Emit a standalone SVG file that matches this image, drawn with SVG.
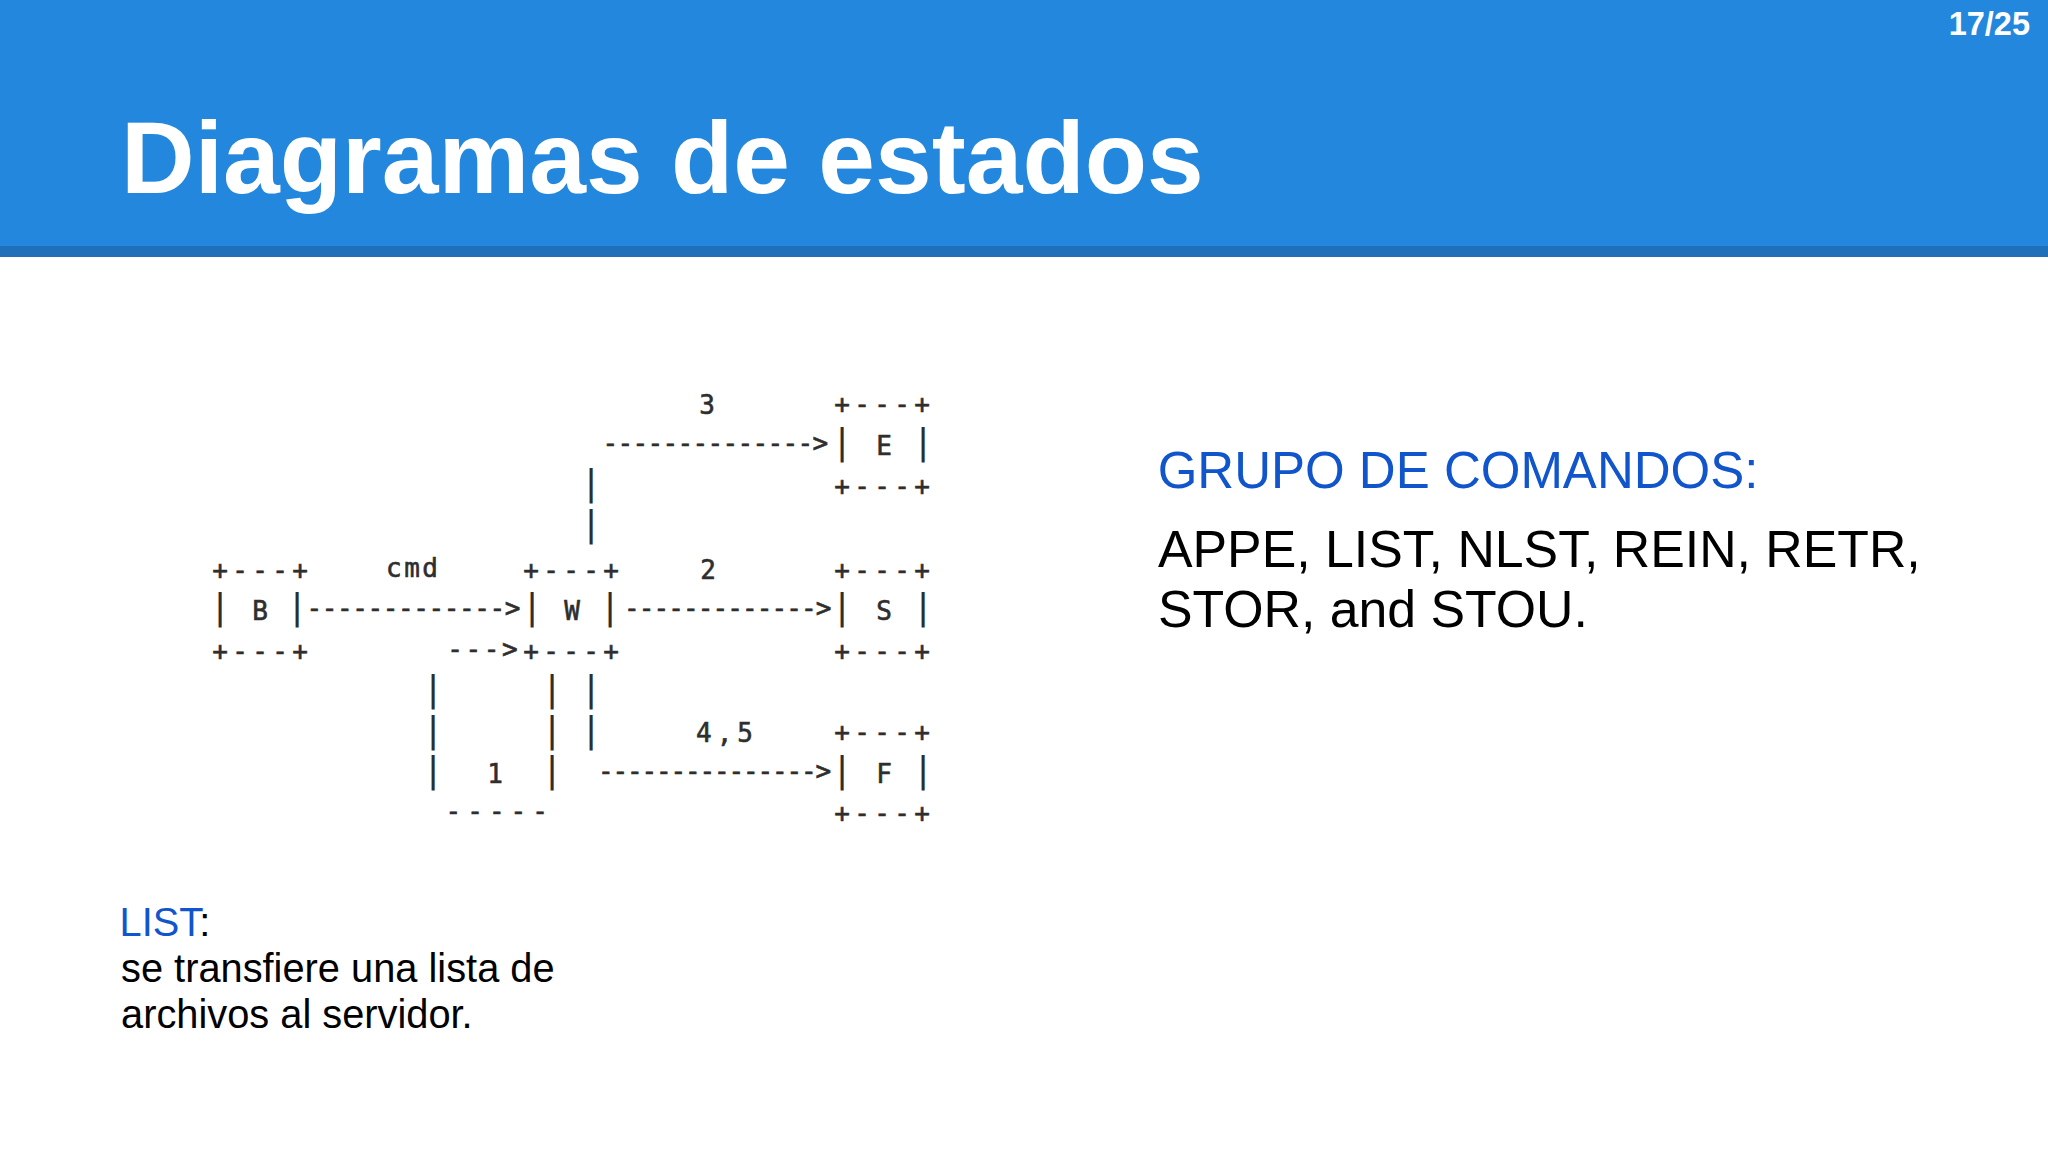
<svg xmlns="http://www.w3.org/2000/svg" width="2048" height="1152" viewBox="0 0 2048 1152">
  <style>
    .sans { font-family: 'Liberation Sans', Arial, sans-serif; }
    .hdr { fill: #ffffff; font-weight: bold; }
    .blue { fill: #1155CC; }
    .blk { fill: #000000; }
    .mono { font-family: 'DejaVu Sans Mono', 'Liberation Mono', monospace; font-size: 26px; fill: #2e2e2e; stroke: #2e2e2e; stroke-width: 0.6px; }
    .bar { font-family: 'DejaVu Sans Mono', 'Liberation Mono', monospace; font-size: 36px; fill: #2e2e2e; text-anchor: middle; }
    .mid { text-anchor: middle; }
    .edge { letter-spacing: 4.35px; }
  </style>

  <rect x="0" y="0" width="2048" height="1152" fill="#ffffff"/>

  <g id="header">
    <rect x="0" y="0" width="2048" height="246" fill="#2388DD"/>
    <rect x="0" y="246" width="2048" height="11" fill="#1F70B8"/>
    <text x="121" y="193" class="sans hdr" font-size="102">Diagramas de estados</text>
    <text x="2030" y="35" class="sans hdr" font-size="32.5" text-anchor="end">17/25</text>
  </g>

  <g id="node-B">
    <text x="212.2" y="578.6" class="mono edge">+---+</text>
    <text x="220" y="619.4" class="bar">|</text>
    <text x="260" y="619.5" class="mono mid">B</text>
    <text x="297" y="619.4" class="bar">|</text>
    <text x="212.2" y="659.6" class="mono edge">+---+</text>
  </g>

  <g id="node-W">
    <text x="523.2" y="578.6" class="mono edge">+---+</text>
    <text x="532" y="619.4" class="bar">|</text>
    <text x="572" y="619.5" class="mono mid">W</text>
    <text x="610" y="619.4" class="bar">|</text>
    <text x="523.2" y="659.6" class="mono edge">+---+</text>
  </g>

  <g id="node-E">
    <text x="834.2" y="412.6" class="mono edge">+---+</text>
    <text x="842" y="454.4" class="bar">|</text>
    <text x="884" y="454.5" class="mono mid">E</text>
    <text x="923" y="454.4" class="bar">|</text>
    <text x="834.2" y="494.6" class="mono edge">+---+</text>
  </g>

  <g id="node-S">
    <text x="834.2" y="578.6" class="mono edge">+---+</text>
    <text x="842" y="619.4" class="bar">|</text>
    <text x="884" y="619.5" class="mono mid">S</text>
    <text x="923" y="619.4" class="bar">|</text>
    <text x="834.2" y="659.6" class="mono edge">+---+</text>
  </g>

  <g id="node-F">
    <text x="834.2" y="740.6" class="mono edge">+---+</text>
    <text x="842" y="782.4" class="bar">|</text>
    <text x="884" y="782.5" class="mono mid">F</text>
    <text x="923" y="782.4" class="bar">|</text>
    <text x="834.2" y="821.6" class="mono edge">+---+</text>
  </g>

  <g id="connectors">
    <!-- W to E, label 3 -->
    <text x="591" y="495.4" class="bar">|</text>
    <text x="591" y="536.4" class="bar">|</text>
    <text x="602.5" y="452.4" class="mono" letter-spacing="-0.65">--------------&gt;</text>
    <text x="707" y="413.5" class="mono mid">3</text>
    <!-- B to W, label cmd -->
    <text x="306.5" y="617.4" class="mono" letter-spacing="-0.4">-------------&gt;</text>
    <text x="386" y="577" class="mono" letter-spacing="2.5">cmd</text>
    <!-- W to S, label 2 -->
    <text x="624" y="617.4" class="mono" letter-spacing="-0.9">-------------&gt;</text>
    <text x="708" y="579" class="mono mid">2</text>
    <!-- W self loop, label 1 -->
    <text x="447.2" y="658.4" class="mono" letter-spacing="2.65">---&gt;</text>
    <text x="433" y="701.4" class="bar">|</text>
    <text x="433" y="742.4" class="bar">|</text>
    <text x="433" y="782.4" class="bar">|</text>
    <text x="552" y="701.4" class="bar">|</text>
    <text x="552" y="742.4" class="bar">|</text>
    <text x="552" y="782.4" class="bar">|</text>
    <text x="495" y="782.5" class="mono mid">1</text>
    <text x="445.5" y="820.4" class="mono" letter-spacing="6.05">-----</text>
    <!-- W to F, label 4,5 -->
    <text x="591" y="701.4" class="bar">|</text>
    <text x="591" y="742.4" class="bar">|</text>
    <text x="598" y="780.4" class="mono" letter-spacing="-1.15">---------------&gt;</text>
    <text x="696" y="742" class="mono" letter-spacing="5">4,5</text>
  </g>

  <g id="commands">
    <text x="1157.7" y="488" class="sans blue" font-size="51">GRUPO DE COMANDOS:</text>
    <text x="1158" y="567" class="sans blk" font-size="51.8">APPE, LIST, NLST, REIN, RETR,</text>
    <text x="1158" y="627" class="sans blk" font-size="51.8">STOR, and STOU.</text>
  </g>

  <g id="list-note">
    <text x="119.5" y="936" class="sans blk" font-size="39.8"><tspan class="blue">LIST</tspan>:</text>
    <text x="121" y="982" class="sans blk" font-size="39.8">se transfiere una lista de</text>
    <text x="121" y="1028" class="sans blk" font-size="39.8">archivos al servidor.</text>
  </g>
</svg>
